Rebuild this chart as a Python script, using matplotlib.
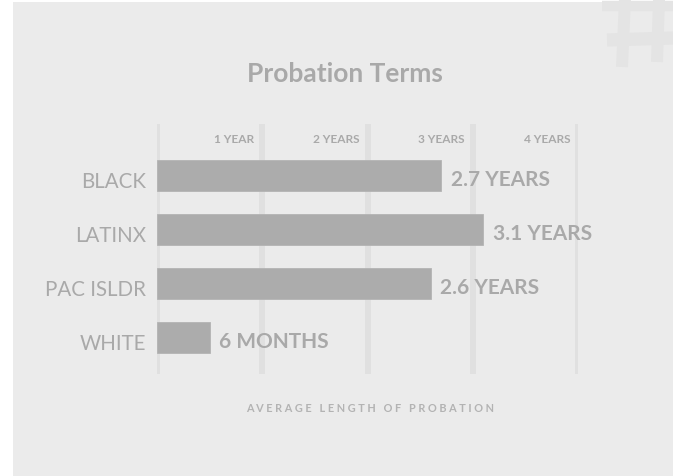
import matplotlib
matplotlib.use("Agg")
import matplotlib.pyplot as plt
from matplotlib.patches import Rectangle
from matplotlib.lines import Line2D

# Data
groups = ["BLACK", "LATINX", "PAC ISLDR", "WHITE"]
years = [2.7, 3.1, 2.6, 0.5]
value_labels = ["2.7 YEARS", "3.1 YEARS", "2.6 YEARS", "6 MONTHS"]
grid_years = [0, 1, 2, 3, 4]
grid_labels = ["", "1 YEAR", "2 YEARS", "3 YEARS", "4 YEARS"]

W, H, DPI = 673, 477, 100
BG = "#ebebeb"
BAR = "#acacac"
GRID = "#e0e0e0"
TXT = "#a9a9a9"
FONT = "Lato"

fig = plt.figure(figsize=(W / DPI, H / DPI), dpi=DPI, facecolor="white")


def px(x, y):
    """Figure-pixel position (from top-left) to figure fraction."""
    return x / W, 1 - y / H


# grey card behind the chart
card = Rectangle(px(13, 477), 1 - 13 / W, 1 - 3 / H,
                 transform=fig.transFigure, facecolor=BG,
                 edgecolor="none", zorder=-5)
fig.add_artist(card)

# faint hash ornament in the top-right corner
HASH = "#e4e4e4"
for (x0, y0), (x1, y1), lw in [((625, 0), (622, 68), 8.6),
                                ((659, 0), (657, 63), 8.6),
                                ((607, 41), (673, 39), 9.5),
                                ((602, 7), (673, 7), 7.5)]:
    (fx0, fy0), (fx1, fy1) = px(x0, y0), px(x1, y1)
    fig.add_artist(Line2D([fx0, fx1], [fy0, fy1], transform=fig.transFigure,
                          color=HASH, lw=lw, solid_capstyle="butt",
                          zorder=-4))

ax = fig.add_axes([157 / W, 1 - 375 / H, (578 - 157) / W, 250 / H])
ax.set_zorder(2)
ax.set_facecolor("none")
ax.set_xlim(0, 4)
ax.set_ylim(3.67, -0.96)
for s in ax.spines.values():
    s.set_visible(False)
ax.set_xticks([])
ax.set_yticks([])

# vertical guides
for g in grid_years:
    ax.axvline(g, color=GRID, lw=4.3, zorder=1)

# guide labels along the top
for g, lab in zip(grid_years, grid_labels):
    if lab:
        ax.annotate(lab, xy=(g, 1), xycoords=("data", "axes fraction"),
                    xytext=(-5.5, -10.5), textcoords="offset points",
                    ha="right", va="center", fontsize=8.6,
                    fontweight="bold", family=FONT, color=TXT)

ypos = list(range(len(groups)))
ax.barh(ypos, years, height=0.58, color=BAR, edgecolor="#b4b4b4",
        linewidth=0.6, zorder=2)

for y, v, lab, name in zip(ypos, years, value_labels, groups):
    ax.annotate(lab, xy=(v, y), xytext=(7, -2), textcoords="offset points",
                ha="left", va="center", fontsize=15, fontweight="bold",
                family=FONT, color=TXT, annotation_clip=False, zorder=3)
    ax.annotate(name, xy=(0, y), xytext=(-8, -3.5), textcoords="offset points",
                ha="right", va="center", fontsize=14.8, family=FONT,
                color=TXT, annotation_clip=False, zorder=3)

fig.text(*px(345, 74), "Probation Terms", fontsize=19,
         fontweight="bold", family=FONT, color=TXT, ha="center", va="center")

fig.text(*px(370, 409), " ".join("AVERAGE LENGTH OF PROBATION"),
         fontsize=7.8, fontweight="bold", family=FONT, color="#b3b3b3",
         ha="center", va="center")

fig.savefig("out.png", dpi=DPI, facecolor="white")
